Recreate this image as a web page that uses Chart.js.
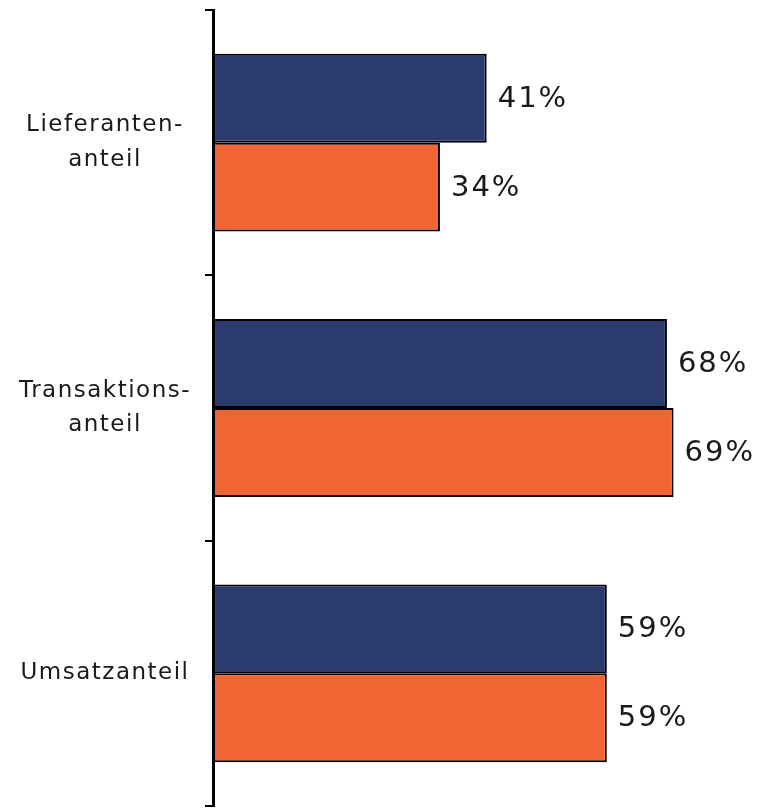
<!DOCTYPE html>
<html lang="de">
<head>
    <meta charset="UTF-8">
    <title>Anteile</title>
    <script src="https://cdn.jsdelivr.net/npm/chart.js"></script>
    <style>
        body { margin: 0; background: #fff; }
        canvas { display: block; }
    </style>
</head>
<body>
    <canvas id="chart1" width="760" height="809"></canvas>

    <script>
        const categories = [["Lieferanten-", "anteil"], ["Transaktions-", "anteil"], "Umsatzanteil"];
        const seriesA = [41, 68, 59];
        const seriesB = [34, 69, 59];

        // letter spacing like the original labels
        const spacing = {
            id: 'spacing',
            beforeLayout(chart) { chart.ctx.letterSpacing = '1.5px'; },
            beforeDraw(chart) { chart.ctx.letterSpacing = '1.5px'; }
        };

        // percent labels to the right of each bar
        const valueLabels = {
            id: 'valueLabels',
            afterDatasetsDraw(chart) {
                const ctx = chart.ctx;
                ctx.save();
                ctx.letterSpacing = '2px';
                ctx.font = '29px "DejaVu Sans"';
                ctx.fillStyle = '#1a1a1a';
                ctx.textAlign = 'left';
                ctx.textBaseline = 'middle';
                chart.data.datasets.forEach((ds, i) => {
                    chart.getDatasetMeta(i).data.forEach((bar, j) => {
                        ctx.fillText(ds.data[j] + '%', bar.x + 11, bar.y + 1);
                    });
                });
                ctx.restore();
            }
        };

        new Chart(document.getElementById("chart1"), {
            type: "bar",
            data: {
                labels: categories,
                datasets: [{
                    data: seriesA,
                    backgroundColor: "#2b3b6d",
                    borderColor: "#000",
                    borderWidth: 2,
                    borderSkipped: false
                }, {
                    data: seriesB,
                    backgroundColor: "#f16535",
                    borderColor: "#000",
                    borderWidth: 2,
                    borderSkipped: false
                }]
            },
            options: {
                indexAxis: 'y',
                responsive: false,
                animation: false,
                categoryPercentage: 0.67,
                barPercentage: 1,
                layout: { padding: { top: 10, bottom: 3, right: 13 } },
                plugins: {
                    legend: { display: false },
                    tooltip: { enabled: false }
                },
                scales: {
                    x: { display: false, min: 0, max: 80 },
                    y: {
                        afterFit(scale) {
                            scale.width = 213;
                            scale.paddingTop = 0;
                            scale.paddingBottom = 0;
                        },
                        border: { color: '#000', width: 3 },
                        grid: {
                            drawOnChartArea: false,
                            color: '#000',
                            lineWidth: 2,
                            tickLength: 8,
                            offset: true
                        },
                        ticks: {
                            crossAlign: 'center',
                            padding: 14,
                            color: '#1a1a1a',
                            font: { family: '"DejaVu Sans"', size: 23, lineHeight: 1.5 }
                        }
                    }
                }
            },
            plugins: [spacing, valueLabels]
        });
    </script>
</body>
</html>
